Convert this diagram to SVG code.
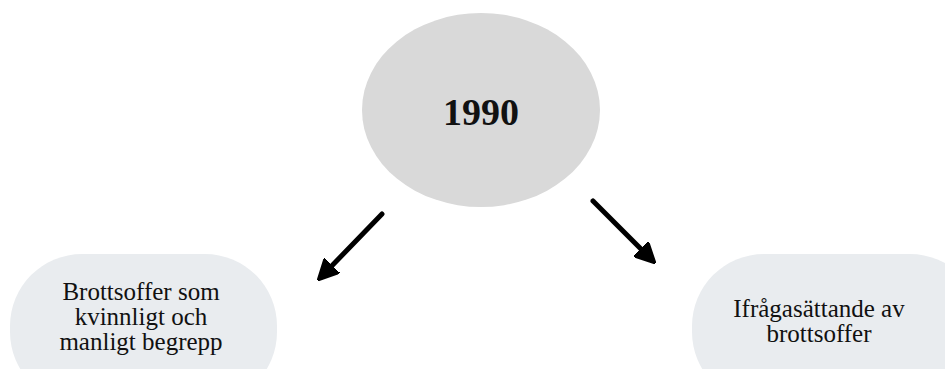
<svg xmlns="http://www.w3.org/2000/svg" width="945" height="369" viewBox="0 0 945 369">
<style>
.node-text{font-family:"Liberation Serif","Times New Roman",serif;fill:#111;text-anchor:middle}
.pill{fill:#e9ecef}
.conn{stroke:#000;stroke-width:5;stroke-linecap:round;fill:none}
</style>
<defs>
<marker id="ah" viewBox="0 0 10 10" refX="7" refY="5" markerWidth="4.2" markerHeight="4.2" orient="auto" markerUnits="strokeWidth">
<path d="M0,0 L10,5 L0,10 Z" fill="#000" stroke="#000" stroke-linejoin="round"/>
</marker>
</defs>
<rect width="945" height="369" fill="#fff"/>
<g id="node-1990">
<ellipse cx="481" cy="110" rx="119" ry="97" fill="#d9d9d9"/>
<text class="node-text" x="481" y="125" font-size="38" font-weight="bold">1990</text>
</g>
<g id="node-left">
<rect class="pill" x="10" y="254" width="267" height="150" rx="72"/>
<text class="node-text" font-size="25"><tspan x="141" y="300">Brottsoffer som</tspan><tspan x="141" y="325">kvinnligt och</tspan><tspan x="141" y="350">manligt begrepp</tspan></text>
</g>
<g id="node-right">
<rect class="pill" x="692" y="254" width="290" height="150" rx="72"/>
<text class="node-text" font-size="25"><tspan x="819" y="317">Ifrågasättande av</tspan><tspan x="819" y="342">brottsoffer</tspan></text>
</g>
<g id="connectors">
<line class="conn" x1="382" y1="214" x2="322" y2="276" marker-end="url(#ah)"/>
<line class="conn" x1="593" y1="201" x2="651" y2="259" marker-end="url(#ah)"/>
</g>
</svg>
